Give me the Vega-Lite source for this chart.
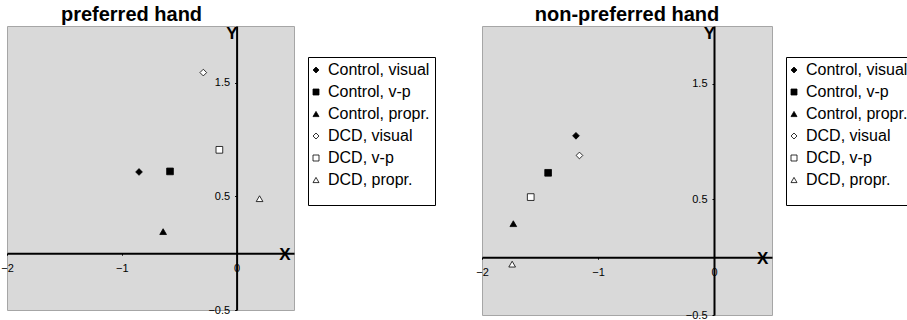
{
  "$schema": "https://vega.github.io/schema/vega-lite/v6.json",
  "background": "white",
  "padding": {"left": 0, "top": 4, "right": 0, "bottom": 0},
  "config": {
    "font": "Liberation Sans",
    "view": {"fill": "#d9d9d9", "stroke": "#a6a6a6", "strokeWidth": 1},
    "concat": {"spacing": 39},
    "legend": {
      "orient": "none", "legendY": 31, "strokeColor": "black", "fillColor": "white",
      "padding": 5, "labelFontSize": 16, "labelColor": "black", "rowPadding": 6, "symbolSize": 36,
      "labelOffset": 4, "labelLimit": 200, "symbolOffset": -5,
      "titleOrient": "bottom", "titleFontSize": 10, "titlePadding": 2,
      "symbolStrokeColor": "black", "symbolStrokeWidth": 0.8
    },
    "axis": {"title": null, "grid": false, "domainColor": "black", "domainWidth": 2, "tickColor": "black", "tickSize": 2, "labelFontSize": 11, "labelColor": "black", "labelFlush": false, "labelOverlap": false}
  },
  "datasets": {
    "pref": [
      {"series": "Control, visual", "x": -0.85, "y": 0.715},
      {"series": "Control, v-p", "x": -0.58, "y": 0.72},
      {"series": "Control, propr.", "x": -0.64, "y": 0.19},
      {"series": "DCD, visual", "x": -0.29, "y": 1.59},
      {"series": "DCD, v-p", "x": -0.15, "y": 0.91},
      {"series": "DCD, propr.", "x": 0.20, "y": 0.48}
    ],
    "nonpref": [
      {"series": "Control, visual", "x": -1.19, "y": 1.05},
      {"series": "Control, v-p", "x": -1.43, "y": 0.73},
      {"series": "Control, propr.", "x": -1.73, "y": 0.29},
      {"series": "DCD, visual", "x": -1.16, "y": 0.88},
      {"series": "DCD, v-p", "x": -1.58, "y": 0.52},
      {"series": "DCD, propr.", "x": -1.74, "y": -0.06}
    ],
    "axisnames": [
      {"x": 0.42, "y": -0.015, "t": "X", "b": "bottom", "a": "center"},
      {"x": -0.04, "y": 1.93, "t": "Y", "b": "top", "a": "right"}
    ]
  },
  "hconcat": [
    {
      "title": {"text": "preferred hand", "fontSize": 20, "fontWeight": "bold", "frame": "group", "anchor": "middle", "dx": -19, "offset": 0, "color": "black"},
      "width": 287,
      "height": 284,
      "layer": [
        {
          "data": {"name": "pref"},
          "mark": {"type": "point", "filled": true, "size": 45, "strokeWidth": 0.8, "opacity": 1},
          "encoding": {
            "x": {"field": "x", "type": "quantitative", "scale": {"domain": [-2, 0.5], "nice": false},
              "axis": {"orient": "bottom", "offset": -56.8, "values": [-2, -1, 0], "format": "d", "labelPadding": 7}},
            "y": {"field": "y", "type": "quantitative", "scale": {"domain": [-0.5, 2], "nice": false},
              "axis": {"orient": "left", "offset": -229.6, "values": [-0.5, 0.5, 1.5], "format": ".1f", "labelPadding": 5}},
            "shape": {"field": "series", "type": "nominal",
              "scale": {"domain": ["Control, visual", "Control, v-p", "Control, propr.", "DCD, visual", "DCD, v-p", "DCD, propr."], "range": ["diamond", "square", "triangle-up", "diamond", "square", "triangle-up"]},
              "legend": {"legendX": 301, "title": " "}},
            "fill": {"field": "series", "type": "nominal",
              "scale": {"domain": ["Control, visual", "Control, v-p", "Control, propr.", "DCD, visual", "DCD, v-p", "DCD, propr."], "range": ["black", "black", "black", "white", "white", "white"]},
              "legend": {"legendX": 301, "title": " "}},
            "stroke": {"field": "series", "type": "nominal",
              "scale": {"domain": ["Control, visual", "Control, v-p", "Control, propr.", "DCD, visual", "DCD, v-p", "DCD, propr."], "range": ["black", "black", "black", "black", "black", "black"]},
              "legend": {"legendX": 301, "title": " "}}
          }
        },
        {
          "data": {"name": "axisnames"},
          "mark": {"type": "text", "fontSize": 17, "fontWeight": "bold", "color": "black"},
          "encoding": {
            "x": {"field": "x", "type": "quantitative"},
            "y": {"field": "y", "type": "quantitative"},
            "text": {"field": "t"},
            "baseline": {"field": "b", "type": "nominal", "scale": null},
            "align": {"field": "a", "type": "nominal", "scale": null}
          }
        }
      ]
    },
    {
      "title": {"text": "non-preferred hand", "fontSize": 20, "fontWeight": "bold", "frame": "group", "anchor": "middle", "offset": 0, "color": "black"},
      "width": 290,
      "height": 289,
      "layer": [
        {
          "data": {"name": "nonpref"},
          "mark": {"type": "point", "filled": true, "size": 45, "strokeWidth": 0.8, "opacity": 1},
          "encoding": {
            "x": {"field": "x", "type": "quantitative", "scale": {"domain": [-2, 0.5], "nice": false},
              "axis": {"orient": "bottom", "offset": -57.8, "values": [-2, -1, 0], "format": "d", "labelPadding": 7}},
            "y": {"field": "y", "type": "quantitative", "scale": {"domain": [-0.5, 2], "nice": false},
              "axis": {"orient": "left", "offset": -232, "values": [-0.5, 0.5, 1.5], "format": ".1f", "labelPadding": 5}},
            "shape": {"field": "series", "type": "nominal",
              "scale": {"domain": ["Control, visual", "Control, v-p", "Control, propr.", "DCD, visual", "DCD, v-p", "DCD, propr."], "range": ["diamond", "square", "triangle-up", "diamond", "square", "triangle-up"]},
              "legend": {"legendX": 304, "title": " "}},
            "fill": {"field": "series", "type": "nominal",
              "scale": {"domain": ["Control, visual", "Control, v-p", "Control, propr.", "DCD, visual", "DCD, v-p", "DCD, propr."], "range": ["black", "black", "black", "white", "white", "white"]},
              "legend": {"legendX": 304, "title": " "}},
            "stroke": {"field": "series", "type": "nominal",
              "scale": {"domain": ["Control, visual", "Control, v-p", "Control, propr.", "DCD, visual", "DCD, v-p", "DCD, propr."], "range": ["black", "black", "black", "black", "black", "black"]},
              "legend": {"legendX": 304, "title": " "}}
          }
        },
        {
          "data": {"name": "axisnames"},
          "mark": {"type": "text", "fontSize": 17, "fontWeight": "bold", "color": "black"},
          "encoding": {
            "x": {"field": "x", "type": "quantitative"},
            "y": {"field": "y", "type": "quantitative"},
            "text": {"field": "t"},
            "baseline": {"field": "b", "type": "nominal", "scale": null},
            "align": {"field": "a", "type": "nominal", "scale": null}
          }
        }
      ]
    }
  ],
  "resolve": {
    "scale": {"x": "independent", "y": "independent", "shape": "independent", "fill": "independent", "stroke": "independent"},
    "legend": {"shape": "independent", "fill": "independent", "stroke": "independent"}
  }
}
